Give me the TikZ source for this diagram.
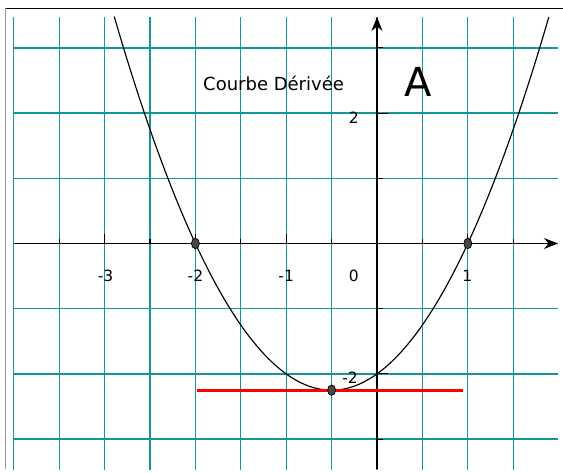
\documentclass[tikz,border=0pt]{standalone}
\usepackage{fontspec}
\setmainfont{DejaVu Sans}
\usetikzlibrary{arrows.meta,shapes.geometric}
\definecolor{gridteal}{RGB}{20,150,150}
\definecolor{ptgray}{RGB}{70,70,70}
\begin{document}
\begin{tikzpicture}[x=90.8pt,y=65.2pt,
  gridline/.style={gridteal,line width=1.3pt},
  axisline/.style={black,line width=1.3pt,-{Stealth[length=14pt,width=11pt]}},
  tickmark/.style={black,line width=1.1pt},
  curveline/.style={black,line width=1.15pt},
  tangent/.style={red,line width=3pt},
  ptmark/.style={ellipse,draw=black,fill=ptgray,line width=0.7pt,minimum width=8pt,minimum height=10.5pt,inner sep=0pt},
  lbl/.style={inner sep=0pt,font=\fontsize{15.5}{18}\selectfont}]
\useasboundingbox (-377pt,-229.5pt) rectangle (186pt,243.5pt);
\fill[white] (-377pt,-229.5pt) rectangle (186pt,243.5pt);
% frame
\draw[gray!80,line width=1.6pt] (-371.3pt,235.2pt) -- (-371.3pt,-226pt);
\draw[black,line width=0.9pt] (-371.3pt,235.2pt) -- (186pt,235.2pt);
% grid
\foreach \x in {-4,-3.5,...,1.5} \draw[gridline] (\x,-3.47) -- (\x,3.48);
\foreach \y in {-3,...,3} \draw[gridline] (-4,\y) -- (1.993,\y);
% axes
\coordinate (xs) at (-4,0);
\coordinate (xe) at (1.993,0);
\coordinate (ys) at (0,-3.46);
\coordinate (ye) at (0,3.474);
\draw[axisline] (xs) -- (xe);
\draw[axisline] (ys) -- (ye);
% ticks
\foreach \x in {-3.5,-2.5,-1.5,-0.5,0.5,1.5} \draw[tickmark] (\x,0) -- ++(0,4pt);
\foreach \x in {-3,-2,-1,1} \draw[tickmark] (\x,0) -- ++(0,9pt);
\foreach \y in {-3,-1,1,3} \draw[tickmark] (0,\y) -- ++(6pt,0);
\foreach \y in {-2,2} \draw[tickmark] (0,\y) -- ++(11pt,0);
% curve
\draw[curveline,domain=-2.894:1.894,samples=120,smooth] plot (\x,{\x*\x+\x-2});
% tangent
\coordinate (t1) at (-1.98,-2.25);
\coordinate (t2) at (0.947,-2.25);
\draw[tangent] (t1) -- (t2);
% points
\node[ptmark] (p1) at (-2,0) {};
\node[ptmark] (p2) at (1,0) {};
\node[ptmark] (p3) at (-0.5,-2.25) {};
% labels
\node[lbl,anchor=base] (lm3) at (-2.99,-0.583) {-3};
\node[lbl,anchor=base] (lm2) at (-2,-0.583) {-2};
\node[lbl,anchor=base] (lm1) at (-1,-0.583) {-1};
\node[lbl,anchor=base east] (l0) at (-0.198,-0.583) {0};
\node[lbl,anchor=base] (l1) at (0.995,-0.583) {1};
\node[lbl,anchor=base east] (ly2) at (-0.198,1.843) {2};
\node[lbl,anchor=base east] (lym2) at (-0.209,-2.14) {-2};
\node[inner sep=0pt,anchor=base west,font=\fontsize{18}{22}\selectfont] (title) at (-1.916,2.344) {Courbe Dérivée};
\node[inner sep=0pt,anchor=base,font=\fontsize{40}{48}\selectfont] (lA) at (0.4515,2.252) {A};
\end{tikzpicture}
\end{document}
